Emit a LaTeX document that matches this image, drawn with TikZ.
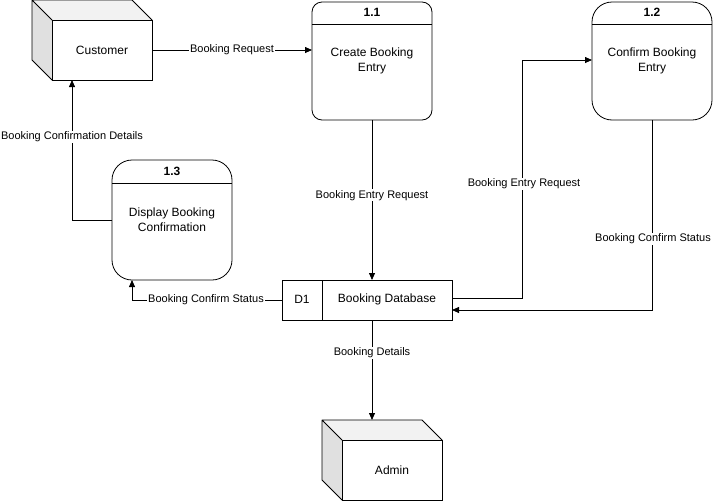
\documentclass[tikz,border=0pt]{standalone}
\usepackage{fontspec}
\setmainfont{Liberation Sans}
\usetikzlibrary{calc,arrows.meta}
\begin{document}
\begin{tikzpicture}[x=1pt,y=-1pt,
  every node/.style={inner sep=0pt,outer sep=0pt},
  front/.style={draw,fill=white,minimum width=100,minimum height=60,font=\fontsize{12}{14}\selectfont,line width=0.8pt},
  proc/.style={draw,fill=white,minimum width=120,minimum height=118,align=center,font=\fontsize{12}{15}\selectfont,line width=0.8pt},
  hdr/.style={font=\bfseries\fontsize{12}{14}\selectfont},
  store/.style={draw,fill=white,minimum width=170,minimum height=40,line width=0.8pt},
  flow/.style={draw,line width=0.8pt,-{Triangle[length=7pt,width=6pt]}},
  lbl/.style={fill=white,inner sep=1pt,font=\fontsize{11}{13}\selectfont}
]
\useasboundingbox (0,0) rectangle (715,501);

% Customer cube
\node[front] (cust) at (102,50) {Customer};
\fill[black!12] (cust.north west) -- ++(-20,-20) -- ++(0,60) -- (cust.south west) -- cycle;
\fill[black!5] (cust.north west) -- ++(-20,-20) -- ++(100,0) -- (cust.north east) -- cycle;
\draw[line width=0.8pt,line join=round] (cust.north west) -- ++(-20,-20) -- ++(100,0) -- (cust.north east)
  (cust.north west) ++(-20,-20) -- ++(0,60) -- (cust.south west);
\draw[line width=0.8pt] (cust.north west) rectangle (cust.south east);

% Admin cube
\node[front] (admin) at (392,470) {Admin};
\fill[black!12] (admin.north west) -- ++(-20,-20) -- ++(0,60) -- (admin.south west) -- cycle;
\fill[black!5] (admin.north west) -- ++(-20,-20) -- ++(100,0) -- (admin.north east) -- cycle;
\draw[line width=0.8pt,line join=round] (admin.north west) -- ++(-20,-20) -- ++(100,0) -- (admin.north east)
  (admin.north west) ++(-20,-20) -- ++(0,60) -- (admin.south west);
\draw[line width=0.8pt] (admin.north west) rectangle (admin.south east);
\coordinate (admintop) at ($(admin.north)+(-20,-20)$);

% Processes
\node[proc,rounded corners=10pt] (p11) at (372,61) {Create Booking\\Entry};
\draw[line width=0.8pt] (312,24) -- (432,24);
\node[hdr] (h11) at (372,12) {1.1};

\node[proc,rounded corners=20pt] (p12) at (652,61) {Confirm Booking\\Entry};
\draw[line width=0.8pt] (592,24) -- (712,24);
\node[hdr] (h12) at (652,12) {1.2};

\node[proc,rounded corners=20pt,minimum height=120] (p13) at (172,220) {Display Booking\\Confirmation};
\draw[line width=0.8pt] (112,183) -- (232,183);
\node[hdr] (h13) at (172,171) {1.3};

% Data store
\node[store] (db) at (367,300) {};
\draw[line width=0.8pt] (322,280) -- (322,320);
\node[font=\fontsize{12}{14}\selectfont] (d1) at (302,299) {D1};
\node[font=\fontsize{12}{14}\selectfont] (dbl) at (387,299) {Booking Database};

% Flows
\draw[flow] (cust.east) -- (cust.east -| p11.west)
  node[lbl,midway] {Booking Request};
\draw[flow] (p11.south) -- (p11.south |- db.north)
  node[lbl,pos=0.47] {Booking Entry Request};
\coordinate (c1) at (522,298);
\coordinate (c2) at (522,60);
\draw[flow] (db.east |- c1) -- (c1) -- (c2) -- (c2 -| p12.west);
\node[lbl] (l3) at (524,184) {Booking Entry Request};
\coordinate (c3) at (652,310);
\draw[flow] (p12.south) -- (c3) -- (c3 -| db.east);
\node[lbl] (l4) at (653,239) {Booking Confirm Status};
\coordinate (c4) at (132,300);
\draw[flow] (db.west |- c4) -- (c4) -- (c4 |- p13.south);
\node[lbl] (l5) at (206,300) {Booking Confirm Status};
\coordinate (c5) at (72,220);
\draw[flow] (p13.west) -- (c5) -- (c5 |- cust.south);
\node[lbl] (l6) at (72,137) {Booking Confirmation Details};
\draw[flow] (admintop |- db.south) -- (admintop)
  node[lbl,pos=0.33] {Booking Details};
\end{tikzpicture}
\end{document}
